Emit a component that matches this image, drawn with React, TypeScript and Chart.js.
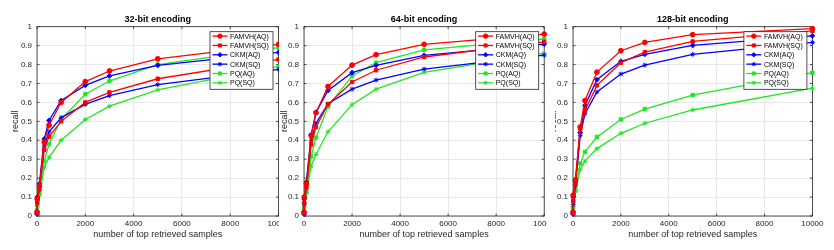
import React, { useEffect, useRef } from 'react';
import { Chart, registerables } from 'chart.js';
import { drawPoint } from 'chart.js/helpers';

Chart.register(...registerables);

const xSamples = [1, 10, 100, 300, 500, 1000, 2000, 3000, 5000, 10000];
const seriesNames = ['FAMVH(AQ)', 'FAMVH(SQ)', 'CKM(AQ)', 'CKM(SQ)', 'PQ(AQ)', 'PQ(SQ)'];
const seriesColors = ['#ff0000', '#ff0000', '#0000ff', '#0000ff', '#22e622', '#22e622'];
const seriesMarkers = ['circle', 'rect', 'rectRot', 'star', 'rect', 'star'];
const xTicks = [0, 2000, 4000, 6000, 8000, 10000];
const yTicks = [0, 0.1, 0.2, 0.3, 0.4, 0.5, 0.6, 0.7, 0.8, 0.9, 1];
const yTickLabels = ['0', '0.1', '0.2', '0.3', '0.4', '0.5', '0.6', '0.7', '0.8', '0.9', '1'];
const panelTitles = ['32-bit encoding', '64-bit encoding', '128-bit encoding'];
const xTitle = 'number of top retrieved samples';
const yTitle = 'recall';

// 32-bit encoding
const famvhAQ32 = [0.02, 0.09, 0.16, 0.39, 0.48, 0.6, 0.71, 0.766, 0.83, 0.907];
const famvhSQ32 = [0.02, 0.07, 0.14, 0.35, 0.42, 0.5, 0.6, 0.653, 0.725, 0.827];
const ckmAQ32 = [0.01, 0.1, 0.17, 0.407, 0.505, 0.61, 0.69, 0.74, 0.796, 0.864];
const ckmSQ32 = [0.02, 0.08, 0.15, 0.37, 0.445, 0.52, 0.59, 0.636, 0.694, 0.775];
const pqAQ32 = [0.03, 0.06, 0.12, 0.29, 0.38, 0.51, 0.643, 0.713, 0.8, 0.89];
const pqSQ32 = [0.02, 0.05, 0.11, 0.255, 0.31, 0.4, 0.51, 0.58, 0.666, 0.79];

// 64-bit encoding
const famvhAQ64 = [0.02, 0.1, 0.17, 0.425, 0.545, 0.684, 0.797, 0.852, 0.907, 0.961];
const famvhSQ64 = [0.02, 0.07, 0.15, 0.378, 0.47, 0.59, 0.708, 0.77, 0.84, 0.92];
const ckmAQ64 = [0.01, 0.09, 0.18, 0.43, 0.549, 0.663, 0.757, 0.796, 0.849, 0.908];
const ckmSQ64 = [0.02, 0.06, 0.16, 0.4, 0.49, 0.593, 0.67, 0.718, 0.776, 0.85];
const pqAQ64 = [0.04, 0.07, 0.13, 0.315, 0.414, 0.578, 0.74, 0.81, 0.878, 0.935];
const pqSQ64 = [0.02, 0.05, 0.12, 0.263, 0.326, 0.445, 0.588, 0.67, 0.759, 0.86];

// 128-bit encoding
const famvhAQ128 = [0.02, 0.11, 0.19, 0.47, 0.61, 0.76, 0.873, 0.917, 0.958, 0.99];
const famvhSQ128 = [0.02, 0.08, 0.17, 0.46, 0.558, 0.69, 0.81, 0.866, 0.922, 0.978];
const ckmAQ128 = [0.01, 0.1, 0.18, 0.44, 0.584, 0.72, 0.817, 0.854, 0.901, 0.952];
const ckmSQ128 = [0.02, 0.06, 0.16, 0.426, 0.54, 0.655, 0.75, 0.797, 0.854, 0.917];
const pqAQ128 = [0.04, 0.08, 0.14, 0.277, 0.339, 0.418, 0.51, 0.565, 0.639, 0.757];
const pqSQ128 = [0.02, 0.05, 0.13, 0.245, 0.29, 0.356, 0.437, 0.49, 0.56, 0.675];

const FONT = "'Liberation Sans', Arial, Helvetica, sans-serif";
const AXIS_COLOR = '#262626';

type PanelSpec = {
  title: string;
  series: number[][];
  wrapLeft: number;
  wrapWidth: number;
  canvasLeft: number;
  padRight: number;
  yTitlePad: number;
};

const panels: PanelSpec[] = [
  { title: panelTitles[0], series: [famvhAQ32, famvhSQ32, ckmAQ32, ckmSQ32, pqAQ32, pqSQ32], wrapLeft: 0, wrapWidth: 279, canvasLeft: 0, padRight: 21.5, yTitlePad: 10.4 },
  { title: panelTitles[1], series: [famvhAQ64, famvhSQ64, ckmAQ64, ckmSQ64, pqAQ64, pqSQ64], wrapLeft: 280, wrapWidth: 267, canvasLeft: -13, padRight: 22.8, yTitlePad: 12.6 },
  { title: panelTitles[2], series: [famvhAQ128, famvhSQ128, ckmAQ128, ckmSQ128, pqAQ128, pqSQ128], wrapLeft: 555, wrapWidth: 279, canvasLeft: -19, padRight: 23.6, yTitlePad: 12 },
];

const CW = 300;
const CH = 250;

const framePlugin = {
  id: 'matlabFrame',
  beforeDatasetsDraw(chart: any) {
    const { ctx, chartArea, scales } = chart;
    const { left, right, top, bottom } = chartArea;
    ctx.save();
    ctx.strokeStyle = AXIS_COLOR;
    ctx.lineWidth = 0.8;
    ctx.strokeRect(left, top, right - left, bottom - top);
    const tl = 2.5;
    ctx.beginPath();
    xTicks.forEach((v) => {
      const px = scales.x.getPixelForValue(v);
      ctx.moveTo(px, bottom);
      ctx.lineTo(px, bottom - tl);
      ctx.moveTo(px, top);
      ctx.lineTo(px, top + tl);
    });
    yTicks.forEach((v) => {
      const py = scales.y.getPixelForValue(v);
      ctx.moveTo(left, py);
      ctx.lineTo(left + tl, py);
      ctx.moveTo(right, py);
      ctx.lineTo(right - tl, py);
    });
    ctx.stroke();
    ctx.restore();
  },
};

const legendPlugin = {
  id: 'matlabLegend',
  afterDatasetsDraw(chart: any) {
    const { ctx, chartArea } = chart;
    const boxW = 63;
    const boxH = 57.6;
    const bx = chartArea.right - 5.5 - boxW;
    const by = chartArea.top + 5;
    ctx.save();
    ctx.fillStyle = '#ffffff';
    ctx.fillRect(bx, by, boxW, boxH);
    ctx.strokeStyle = AXIS_COLOR;
    ctx.lineWidth = 0.8;
    ctx.strokeRect(bx, by, boxW, boxH);
    ctx.font = `7px ${FONT}`;
    ctx.textBaseline = 'middle';
    ctx.textAlign = 'left';
    seriesNames.forEach((name, i) => {
      const y = by + 4.4 + i * 9.35;
      ctx.strokeStyle = seriesColors[i];
      ctx.fillStyle = seriesColors[i];
      ctx.lineWidth = 1.3;
      ctx.beginPath();
      ctx.moveTo(bx + 2.4, y);
      ctx.lineTo(bx + 17.4, y);
      ctx.stroke();
      ctx.lineWidth = 1;
      drawPoint(ctx, { pointStyle: seriesMarkers[i] as any, radius: 2.2, borderWidth: 1, rotation: 0 } as any, bx + 9.9, y);
      ctx.fillStyle = '#000000';
      ctx.fillText(name, bx + 20, y + 0.5);
    });
    ctx.restore();
  },
};

function Panel({ spec }: { spec: PanelSpec }) {
  const ref = useRef<HTMLCanvasElement>(null);
  useEffect(() => {
    if (!ref.current) return;
    const datasets = spec.series.map((vals, i) => ({
      label: seriesNames[i],
      data: xSamples.map((x, j) => ({ x, y: vals[j] })),
      borderColor: seriesColors[i],
      backgroundColor: seriesColors[i],
      pointBackgroundColor: seriesColors[i],
      pointBorderColor: seriesColors[i],
      borderWidth: 1.3,
      pointRadius: 2.4,
      pointBorderWidth: 1,
      pointStyle: seriesMarkers[i] as any,
      tension: 0,
      clip: false as any,
    }));
    const chart = new Chart(ref.current, {
      type: 'line',
      data: { datasets },
      plugins: [framePlugin, legendPlugin],
      options: {
        animation: false,
        responsive: false,
        maintainAspectRatio: false,
        layout: { padding: { left: 0, right: spec.padRight, top: 0, bottom: 0 } },
        plugins: {
          legend: { display: false },
          tooltip: { enabled: false },
          title: {
            display: true,
            text: spec.title,
            fullSize: false,
            color: '#000000',
            font: { family: FONT, size: 9, weight: 'bold', lineHeight: 1.2 },
            padding: { top: 14.5, bottom: 1.4 },
          },
        },
        scales: {
          x: {
            type: 'linear',
            min: 0,
            max: 10000,
            afterFit: (s: any) => { s.height = 34; },
            afterBuildTicks: (s: any) => { s.ticks = xTicks.map((v) => ({ value: v })); },
            ticks: {
              color: AXIS_COLOR,
              font: { family: FONT, size: 8 },
              padding: 3,
              maxRotation: 0,
              autoSkip: false,
              callback: (v: any) => String(v),
            },
            grid: { color: '#e2e2e2', lineWidth: 0.8, drawTicks: false },
            border: { display: false },
            title: {
              display: true,
              text: xTitle,
              color: AXIS_COLOR,
              font: { family: FONT, size: 9, lineHeight: 1.2 },
              padding: { top: 0, bottom: 9.6 },
            },
          },
          y: {
            type: 'linear',
            min: 0,
            max: 1,
            afterFit: (s: any) => { s.width = 37; },
            afterBuildTicks: (s: any) => { s.ticks = yTicks.map((v) => ({ value: v })); },
            ticks: {
              color: AXIS_COLOR,
              font: { family: FONT, size: 8 },
              padding: 5,
              autoSkip: false,
              callback: (_v: any, i: number) => yTickLabels[i],
            },
            grid: { color: '#e2e2e2', lineWidth: 0.8, drawTicks: false },
            border: { display: false },
            title: {
              display: true,
              text: yTitle,
              color: AXIS_COLOR,
              font: { family: FONT, size: 9, lineHeight: 1.2 },
              padding: { top: spec.yTitlePad, bottom: 0 },
            },
          },
        },
      },
    });
    return () => chart.destroy();
  }, []);
  return (
    <div style={{ position: 'absolute', left: spec.wrapLeft, top: 0, width: spec.wrapWidth, height: CH, overflow: 'hidden' }}>
      <canvas
        ref={ref}
        width={CW}
        height={CH}
        style={{ position: 'absolute', left: spec.canvasLeft, top: 0, width: CW, height: CH }}
      />
    </div>
  );
}

export default function App() {
  return (
    <div style={{ position: 'absolute', left: 0, top: 0, width: 834, height: 250, background: '#ffffff', overflow: 'hidden' }}>
      {panels.map((p, i) => (
        <Panel key={i} spec={p} />
      ))}
    </div>
  );
}
